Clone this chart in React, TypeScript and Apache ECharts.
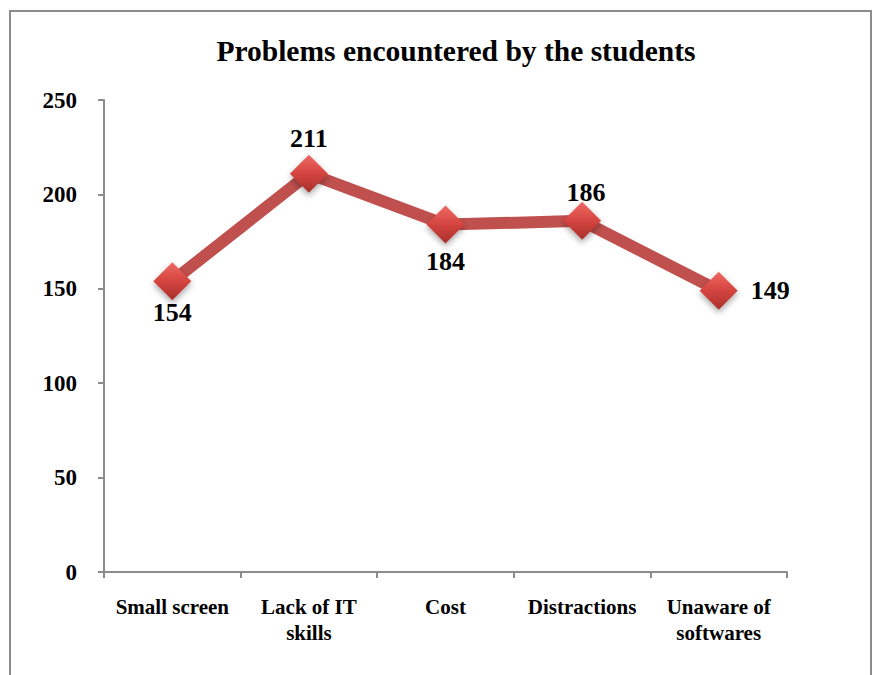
import React, { useEffect, useRef } from "react";
import * as echarts from "echarts";

const categories = ["Small screen", "Lack of IT\nskills", "Cost", "Distractions", "Unaware of\nsoftwares"];
const values = [154, 211, 184, 186, 149];
const labelPositions = ["bottom", "top", "bottom", "top", "right"];
const labelOffsets = [[0, -2], [0, -2], [0, 4], [4, 5], [12, 0]];

const FONT = "'Liberation Serif', 'Times New Roman', serif";

export default function App() {
  const ref = useRef<HTMLDivElement>(null);
  useEffect(() => {
    if (!ref.current) return;
    const chart = echarts.init(ref.current, undefined, { renderer: "svg" });
    chart.setOption({
      animation: false,
      backgroundColor: "#ffffff",
      graphic: [
        {
          type: "rect",
          shape: { x: 10, y: 11, width: 861, height: 680 },
          style: { fill: "none", stroke: "#8c8c8c", lineWidth: 2 },
          silent: true,
        },
      ],
      title: {
        text: "Problems encountered by the students",
        left: 451,
        textAlign: "center",
        top: 31,
        textStyle: { fontFamily: FONT, fontWeight: "bold", fontSize: 29.5, color: "#000" },
      },
      grid: { left: 104, right: 93, top: 100, bottom: 103, containLabel: false },
      xAxis: {
        type: "category",
        data: categories,
        boundaryGap: true,
        axisLine: { lineStyle: { color: "#8c8c8c", width: 2 } },
        axisTick: { show: true, length: 6, lineStyle: { color: "#8c8c8c", width: 2 } },
        axisLabel: {
          margin: 22,
          interval: 0,
          fontFamily: FONT,
          fontWeight: "bold",
          fontSize: 21,
          lineHeight: 26,
          color: "#000",
        },
      },
      yAxis: {
        type: "value",
        min: 0,
        max: 250,
        interval: 50,
        axisLine: { show: true, lineStyle: { color: "#8c8c8c", width: 2 } },
        axisTick: { show: true, length: 6, lineStyle: { color: "#8c8c8c", width: 2 } },
        splitLine: { show: false },
        axisLabel: {
          margin: 27,
          fontFamily: FONT,
          fontWeight: "bold",
          fontSize: 23,
          color: "#000",
        },
      },
      series: [
        {
          type: "line",
          data: values.map((v, i) => ({
            value: v,
            label: { position: labelPositions[i], offset: labelOffsets[i] },
          })),
          lineStyle: { color: "#c0504d", width: 12 },
          symbol: "diamond",
          symbolSize: [38, 38],
          itemStyle: {
            color: new echarts.graphic.LinearGradient(0, 0, 0, 1, [
              { offset: 0, color: "#ef6a64" },
              { offset: 0.5, color: "#d4443f" },
              { offset: 1, color: "#a8302c" },
            ]),
            shadowColor: "rgba(0,0,0,0.35)",
            shadowBlur: 6,
            shadowOffsetY: 3,
          },
          label: {
            show: true,
            distance: 1,
            fontFamily: FONT,
            fontWeight: "bold",
            fontSize: 26,
            color: "#000",
          },
        },
      ],
    });
    return () => chart.dispose();
  }, []);
  return (
    <div
      ref={ref}
      style={{ position: "fixed", left: 0, top: 0, width: 880, height: 675 }}
    />
  );
}
